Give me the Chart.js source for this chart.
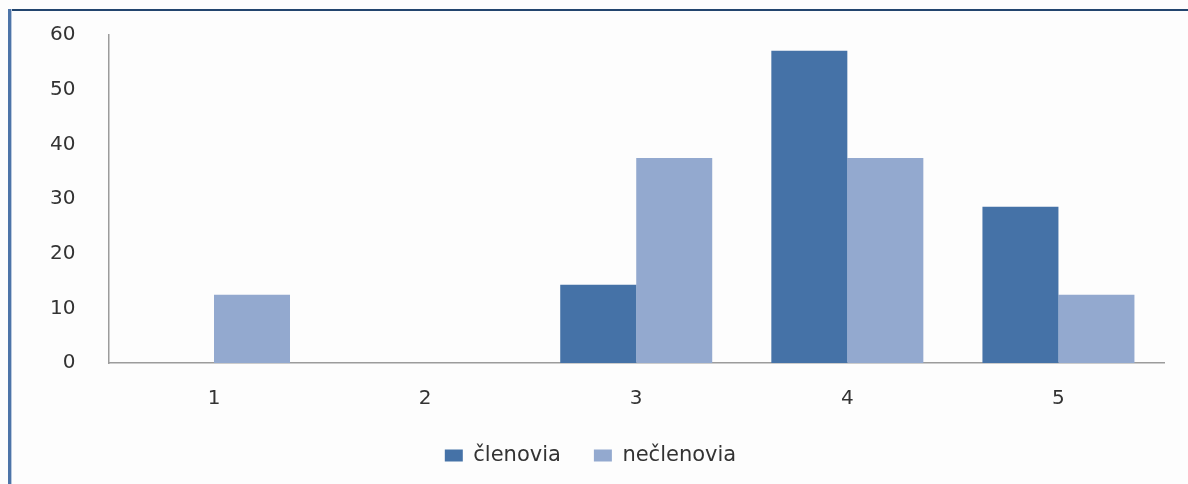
<!DOCTYPE html>
<html>
<head>
<meta charset="utf-8">
<script src="https://cdn.jsdelivr.net/npm/chart.js@4"></script>
<style>
  html, body { margin: 0; padding: 0; background: #fdfdfd; }
  #wrap { position: relative; width: 1188px; height: 484px; overflow: hidden; }
  #frame-top { position: absolute; left: 8px; top: 9px; width: 1180px; height: 2px; background: #22456e; }
  #frame-left { position: absolute; left: 8px; top: 9px; width: 3px; height: 475px; background: #4d74a8; border-right: 1px solid #b9c9de; }
  canvas { position: absolute; left: 0; top: 0; }
</style>
</head>
<body>
<div id="wrap">
  <canvas id="chart" width="1188" height="484"></canvas>
  <div id="frame-top"></div>
  <div id="frame-left"></div>
</div>
<script>
// Categories and values (percent)
const categories = ['1', '2', '3', '4', '5'];
const clenovia = [0, 0, 14.3, 57.1, 28.6];
const neclenovia = [12.5, 0, 37.5, 37.5, 12.5];
const yTicks = [0, 10, 20, 30, 40, 50, 60];

const ctx = document.getElementById('chart');
const font = { family: 'DejaVu Sans', size: 20 };

// eslint-disable-next-line no-undef, no-unused-vars
const chart = new Chart(ctx, {
  type: 'bar',
  data: {
    labels: categories,
    datasets: [
      {
        label: 'členovia',
        data: clenovia,
        backgroundColor: '#4572a7',
        borderWidth: 0,
        categoryPercentage: 0.72,
        barPercentage: 1,
      },
      {
        label: 'nečlenovia',
        data: neclenovia,
        backgroundColor: '#93a9cf',
        borderWidth: 0,
        categoryPercentage: 0.72,
        barPercentage: 1,
      },
    ],
  },
  options: {
    responsive: false,
    animation: false,
    layout: {
      padding: { left: 17, right: 24, top: 35, bottom: 8 },
    },
    plugins: {
      tooltip: { enabled: false },
      legend: {
        position: 'bottom',
        labels: {
          font: { family: 'DejaVu Sans', size: 21 },
          color: '#333',
          boxWidth: 18,
          boxHeight: 12,
          padding: 33,
        },
      },
    },
    scales: {
      x: {
        grid: { display: false, drawTicks: false },
        border: { display: true, color: '#9c9c9c', width: 1.5 },
        ticks: { font, color: '#333', padding: 24 },
        // let the tick labels hang into the legend's empty top padding
        afterFit: (axis) => {
          axis.height -= 23;
        },
      },
      y: {
        min: 0,
        max: 60,
        afterBuildTicks: (axis) => {
          axis.ticks = yTicks.map((v) => ({ value: v }));
        },
        // tick padding is horizontal here, don't reserve it above/below
        afterFit: (axis) => {
          axis.paddingTop = 0;
          axis.paddingBottom = 0;
        },
        grid: { display: false, drawTicks: false },
        border: { display: true, color: '#9c9c9c', width: 1.5 },
        ticks: { font, color: '#333', padding: 33 },
      },
    },
  },
});
</script>
</body>
</html>
